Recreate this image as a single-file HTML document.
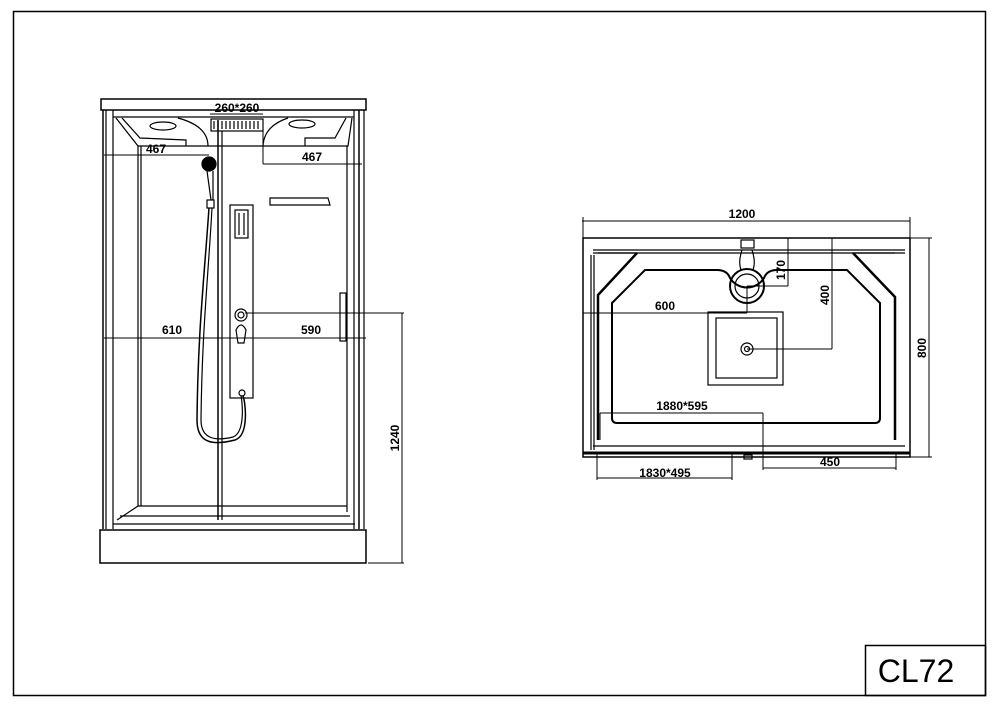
<!DOCTYPE html>
<html><head><meta charset="utf-8"><style>
html,body{margin:0;padding:0;background:#fff;}
svg{display:block;}
text{font-family:"Liberation Sans Narrow","Liberation Sans",sans-serif;font-size:12px;fill:#000;font-weight:bold;}
</style></head><body>
<svg width="1000" height="707" viewBox="0 0 1000 707" xmlns="http://www.w3.org/2000/svg">
<g fill="none" stroke="#000" stroke-width="1.2">
<rect x="13.5" y="11.5" width="972" height="684" stroke-width="1.5"/>
<rect x="865.5" y="645.5" width="120" height="50" stroke-width="1.5"/>

<!-- LEFT VIEW -->
<rect x="101" y="99" width="265" height="11" stroke-width="1.5"/>
<line x1="103" y1="110" x2="103" y2="529" stroke-width="1.5"/>
<line x1="106" y1="110" x2="106" y2="529"/>
<line x1="113" y1="110" x2="113" y2="529"/>
<line x1="354" y1="110" x2="354" y2="529"/>
<line x1="359" y1="110" x2="359" y2="529" stroke-width="1.5"/>
<line x1="364" y1="110" x2="364" y2="529"/>
<line x1="113" y1="117" x2="354" y2="117"/>
<path d="M116 118 L138 146 L348 146 L352 118"/>
<path d="M122 118 L140 138 L186 140 L186 146"/>
<path d="M346 118 L335 138 L305 138 L305 146"/>
<path d="M178 118 Q208 126 208 146"/>
<path d="M288 118 Q264 126 263 146"/>
<ellipse cx="163" cy="126" rx="13" ry="4"/>
<ellipse cx="302" cy="124" rx="13" ry="4"/>
<rect x="211" y="119" width="52" height="12"/>
<path d="M214 121 v8 M218 121 v8 M222 121 v8 M226 121 v8 M230 121 v8 M234 121 v8 M238 121 v8 M242 121 v8 M246 121 v8 M250 121 v8 M254 121 v8 M258 121 v8"/>
<line x1="138" y1="146" x2="138" y2="506"/>
<line x1="141" y1="146" x2="141" y2="506"/>
<line x1="347" y1="146" x2="347" y2="512"/>
<line x1="138" y1="506" x2="347" y2="506"/>
<line x1="218" y1="120" x2="218" y2="520" stroke-width="1.5"/>
<line x1="222" y1="131" x2="222" y2="520"/>
<path d="M117 520 L138 506 M113 524 L355 524 M120 516 L350 516"/>
<rect x="100" y="530" width="266" height="33" stroke-width="1.5"/>
<circle cx="209" cy="164" r="7" fill="#000"/>
<path d="M207 171 L211 200 M213 171 L213 200"/>
<rect x="207" y="200" width="7" height="8"/>
<path d="M209 208 C204 280 198 330 197 420 C197 445 215 445 235 440 C250 435 245 400 243 396" stroke-width="1.5"/>
<path d="M212 208 C208 280 202 330 201 420 C201 440 217 441 233 437 C246 432 242 400 241 396"/>
<rect x="230" y="205" width="23" height="193"/>
<rect x="235" y="210" width="13" height="28"/>
<path d="M239 213 v22 M244 213 v22"/>
<circle cx="241" cy="315" r="6"/><circle cx="241" cy="315" r="3"/>
<path d="M236 330 Q241 320 246 330 L244 343 L238 343 Z"/>
<circle cx="242" cy="393" r="3"/>
<path d="M270 198 L328 198 L330 205 L270 205 Z"/>
<rect x="340" y="293" width="6" height="48"/>
<line x1="104" y1="338" x2="366" y2="338" stroke-width="1"/>
<line x1="245" y1="313" x2="404" y2="313" stroke-width="1"/>
<line x1="402" y1="313" x2="402" y2="563" stroke-width="1"/>
<line x1="368" y1="563" x2="404" y2="563" stroke-width="1"/>
<line x1="104" y1="155" x2="209" y2="155" stroke-width="1"/>
<line x1="263" y1="131" x2="263" y2="164" stroke-width="1"/>
<line x1="263" y1="164" x2="362" y2="164" stroke-width="1"/>
<line x1="210" y1="114" x2="263" y2="114" stroke-width="1"/>

<!-- RIGHT VIEW -->
<line x1="582" y1="221" x2="910" y2="221" stroke-width="1"/>
<line x1="583" y1="217" x2="583" y2="238" stroke-width="1"/>
<line x1="910" y1="217" x2="910" y2="238" stroke-width="1"/>
<rect x="583" y="238" width="327" height="219" stroke-width="1.5"/>
<line x1="929" y1="238" x2="929" y2="457" stroke-width="1"/>
<line x1="910" y1="238" x2="932" y2="238" stroke-width="1"/>
<line x1="910" y1="457" x2="932" y2="457" stroke-width="1"/>
<path d="M593 250 L905 250 M593 253 L905 253"/>
<line x1="591" y1="255" x2="591" y2="450"/>
<line x1="594" y1="255" x2="594" y2="450"/>
<path d="M637 253 L598 295 L598 440 M853 253 L895 297 L895 440" stroke-width="2.5"/>
<path d="M598 253 L637 253 M853 253 L895 253"/>
<path d="M612 303 L645 270 L717 270 Q727 270 730 278 A20 20 0 0 0 764 278 Q767 270 777 270 L847 270 L880 303 L880 418 Q880 423 875 423 L617 423 Q612 423 612 418 Z" stroke-width="2"/>
<circle cx="747" cy="286" r="17" stroke-width="2"/>
<circle cx="747" cy="286" r="12"/>
<path d="M742 250 Q738 262 741 270 M752 250 Q756 262 753 270"/>
<rect x="741" y="240" width="13" height="8"/>
<rect x="708" y="312" width="75" height="73"/>
<rect x="716" y="318" width="61" height="60"/>
<circle cx="747" cy="349" r="6"/><circle cx="747" cy="349" r="2.5"/>
<line x1="593" y1="446" x2="905" y2="446"/>
<line x1="583" y1="453" x2="910" y2="453" stroke-width="3"/>
<rect x="744" y="455" width="8" height="4"/>
<line x1="747" y1="286" x2="788" y2="286" stroke-width="1"/>
<line x1="788" y1="238" x2="788" y2="286" stroke-width="1"/>
<line x1="747" y1="349" x2="832" y2="349" stroke-width="1"/>
<line x1="832" y1="238" x2="832" y2="349" stroke-width="1"/>
<line x1="583" y1="313" x2="747" y2="313" stroke-width="1"/>
<line x1="747" y1="286" x2="747" y2="313" stroke-width="1"/>
<line x1="600" y1="413" x2="763" y2="413" stroke-width="1"/>
<line x1="600" y1="413" x2="600" y2="440" stroke-width="1"/>
<line x1="763" y1="413" x2="763" y2="470" stroke-width="1"/>
<line x1="763" y1="468" x2="896" y2="468" stroke-width="1"/>
<line x1="896" y1="452" x2="896" y2="470" stroke-width="1"/>
<line x1="597" y1="478" x2="732" y2="478" stroke-width="1"/>
<line x1="597" y1="452" x2="597" y2="480" stroke-width="1"/>
<line x1="732" y1="452" x2="732" y2="480" stroke-width="1"/>
</g>
<g>
<text x="237" y="112" text-anchor="middle">260*260</text>
<text x="156" y="153" text-anchor="middle">467</text>
<text x="312" y="161" text-anchor="middle">467</text>
<text x="172" y="334" text-anchor="middle">610</text>
<text x="311" y="334" text-anchor="middle">590</text>
<text transform="translate(399,438) rotate(-90)" text-anchor="middle">1240</text>
<text x="742" y="218" text-anchor="middle">1200</text>
<text transform="translate(926,348) rotate(-90)" text-anchor="middle">800</text>
<text transform="translate(785,270) rotate(-90)" text-anchor="middle">170</text>
<text transform="translate(829,295) rotate(-90)" text-anchor="middle">400</text>
<text x="665" y="310" text-anchor="middle">600</text>
<text x="682" y="410" text-anchor="middle">1880*595</text>
<text x="830" y="466" text-anchor="middle">450</text>
<text x="665" y="477" text-anchor="middle">1830*495</text>
<text x="916" y="682" text-anchor="middle" style="font-size:32px;font-weight:normal">CL72</text>
</g>
</svg>
</body></html>
